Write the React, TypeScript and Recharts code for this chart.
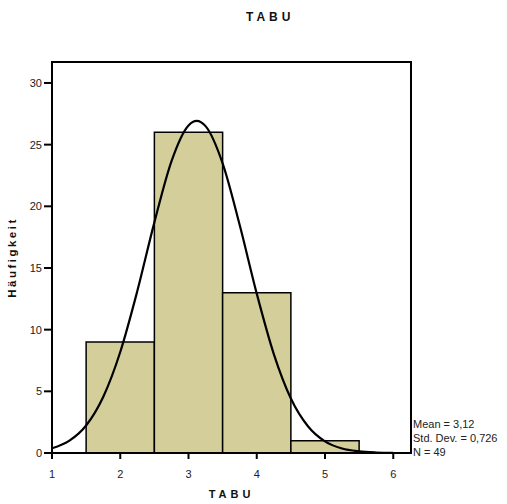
import React from 'react';
import { ComposedChart, Line, XAxis, YAxis, ReferenceArea } from 'recharts';

const binStart = [1.5, 2.5, 3.5, 4.5];
const binEnd = [2.5, 3.5, 4.5, 5.5];
const counts = [9, 26, 13, 1];

const curveX = [1, 1.25, 1.5, 1.75, 2, 2.25, 2.5, 2.75, 3, 3.12, 3.25, 3.5, 3.75, 4, 4.25, 4.5, 4.75, 5, 5.25, 5.5, 5.75, 6];
const curveY = [0.38, 0.98, 2.23, 4.54, 8.19, 13.13, 18.7, 23.65, 26.56, 26.93, 26.5, 23.48, 18.48, 12.92, 8.02, 4.42, 2.17, 0.94, 0.36, 0.13, 0.04, 0.01];

const xTicks = [1, 2, 3, 4, 5, 6];
const yTicks = [0, 5, 10, 15, 20, 25, 30];
const xDomain = [1, 6.26];
const yDomain = [0, 31.7];
const statsLines = ['Mean = 3,12', 'Std. Dev. = 0,726', 'N = 49'];

const data = curveX.map((x, i) => ({ x, y: curveY[i] }));

const FONT = '"Liberation Sans", Arial, sans-serif';

export default function App() {
  return (
    <div style={{ position: 'absolute', left: 0, top: 0, width: 507, height: 504, background: '#fff', fontFamily: FONT }}>
      <ComposedChart width={507} height={504} data={data} margin={{ top: 62, right: 96, bottom: 0, left: 0 }}>
        <XAxis
          dataKey="x"
          type="number"
          domain={xDomain}
          ticks={xTicks}
          allowDataOverflow
          height={51}
          tickSize={6}
          tickMargin={11}
          axisLine={{ stroke: '#000', strokeWidth: 2 }}
          tickLine={{ stroke: '#000', strokeWidth: 2 }}
          tick={{ fill: '#222', fontSize: 11, fontFamily: FONT }}
          label={{ value: 'TABU', position: 'insideBottom', offset: 6, fill: '#111', fontSize: 11, fontWeight: 'bold', fontFamily: FONT, letterSpacing: 4 }}
        />
        <YAxis
          type="number"
          domain={yDomain}
          ticks={yTicks}
          allowDataOverflow
          width={52}
          tickSize={8}
          tickMargin={2}
          axisLine={{ stroke: '#000', strokeWidth: 2 }}
          tickLine={{ stroke: '#000', strokeWidth: 2 }}
          tick={{ fill: '#222', fontSize: 11, fontFamily: FONT }}
          label={{ value: 'Häufigkeit', angle: -90, position: 'insideLeft', offset: 12, fill: '#111', fontSize: 11.5, fontWeight: 'bold', fontFamily: FONT, letterSpacing: 2.5, style: { textAnchor: 'middle' } }}
        />
        <ReferenceArea
          x1={xDomain[0]}
          x2={xDomain[1]}
          y1={yDomain[0]}
          y2={yDomain[1]}
          fill="none"
          stroke="#000"
          strokeWidth={2}
          ifOverflow="visible"
        />
        {counts.map((c, i) => (
          <ReferenceArea
            key={i}
            x1={binStart[i]}
            x2={binEnd[i]}
            y1={0}
            y2={c}
            fill="#D3CE9A"
            fillOpacity={1}
            stroke="#000"
            strokeWidth={1.5}
          />
        ))}
        <Line dataKey="y" type="monotone" stroke="#000" strokeWidth={2.2} dot={false} activeDot={false} isAnimationActive={false} />
      </ComposedChart>
      <div style={{ position: 'absolute', left: 246, top: 10, fontSize: 12, fontWeight: 'bold', letterSpacing: 4, color: '#111', whiteSpace: 'nowrap' }}>TABU</div>
      <div style={{ position: 'absolute', left: 413, top: 417, fontSize: 11, lineHeight: '14px', color: '#222', whiteSpace: 'nowrap' }}>
        {statsLines.map((s, i) => (
          <div key={i}>{s}</div>
        ))}
      </div>
    </div>
  );
}
